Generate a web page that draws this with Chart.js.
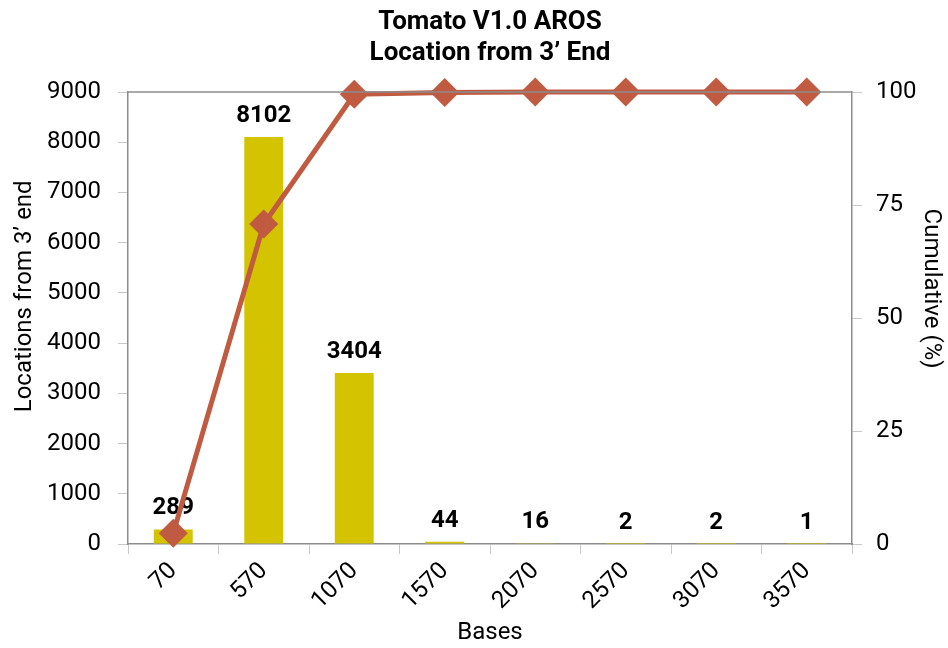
<!DOCTYPE html>
<html>
<head>
<meta charset="utf-8">
<script src="https://cdn.jsdelivr.net/npm/chart.js@4.4.1/dist/chart.umd.min.js"></script>
<style>
  html, body { margin: 0; padding: 0; background: #ffffff; }
  #wrap { width: 948px; height: 648px; }
</style>
</head>
<body>
<div id="wrap"><canvas id="chart" width="948" height="648"></canvas></div>
<script>
// Distance-from-3'-end bins (bases)
const bases = ['70', '570', '1070', '1570', '2070', '2570', '3070', '3570'];
// Number of locations in each bin
const locationCounts = [289, 8102, 3404, 44, 16, 2, 2, 1];
// Cumulative share of locations (%)
const cumulativePct = [2.4, 70.8, 99.5, 99.9, 100, 100, 100, 100];
// Axis tick settings
const countTicks = { min: 0, max: 9000, step: 1000 };
const pctTicks = { min: 0, max: 100, step: 25 };

const BAR_COLOR = '#d4c300';
const LINE_COLOR = '#c05a40';
const AXIS_COLOR = '#8c8c8c';
const TICK_COLOR = '#c8c8c8';
const FONT = 'Roboto';

// Count labels written above each bar (drawn before the line so the line sits on top)
const barValueLabels = {
  id: 'barValueLabels',
  beforeDatasetsDraw(chart) {
    const meta = chart.getDatasetMeta(1);
    const ctx = chart.ctx;
    ctx.save();
    ctx.font = 'bold 24px ' + FONT;
    ctx.fillStyle = '#000000';
    ctx.textAlign = 'center';
    ctx.textBaseline = 'alphabetic';
    meta.data.forEach((bar, i) => {
      ctx.fillText(String(locationCounts[i]), bar.x, bar.y - 15);
    });
    ctx.restore();
  }
};

// Thin frame line along the top of the plot area, plus the two vertical axis titles
const frameAndAxisTitles = {
  id: 'frameAndAxisTitles',
  afterDraw(chart) {
    const { ctx, chartArea } = chart;
    const h = chartArea.bottom - chartArea.top;
    ctx.save();
    ctx.strokeStyle = AXIS_COLOR;
    ctx.lineWidth = 1.5;
    ctx.beginPath();
    ctx.moveTo(chartArea.left, chartArea.top);
    ctx.lineTo(chartArea.right, chartArea.top);
    ctx.stroke();

    ctx.fillStyle = '#000000';
    ctx.font = '24px ' + FONT;
    ctx.textAlign = 'center';
    ctx.textBaseline = 'middle';

    ctx.save();
    ctx.translate(25, chartArea.top + h * 0.452);
    ctx.rotate(-Math.PI / 2);
    ctx.fillText('Locations from 3\u2019 end', 0, 0);
    ctx.restore();

    ctx.save();
    ctx.translate(931, chartArea.top + h * 0.435);
    ctx.rotate(Math.PI / 2);
    ctx.fillText('Cumulative (%)', 0, 0);
    ctx.restore();

    ctx.restore();
  }
};

const tickFont = { family: FONT, size: 24 };
const titleFont = { family: FONT, size: 24, lineHeight: 1.1 };
const plainNumber = (v) => String(v);

new Chart(document.getElementById('chart'), {
  type: 'bar',
  data: {
    labels: bases,
    datasets: [
      {
        type: 'line',
        label: 'Cumulative (%)',
        data: cumulativePct,
        yAxisID: 'y2',
        borderColor: LINE_COLOR,
        backgroundColor: LINE_COLOR,
        borderWidth: 5,
        pointStyle: 'rectRot',
        pointRadius: 14.5,
        pointHoverRadius: 14.5,
        pointBorderWidth: 0,
        tension: 0,
        clip: false,
        order: 0
      },
      {
        type: 'bar',
        label: "Locations from 3' end",
        data: locationCounts,
        yAxisID: 'y',
        backgroundColor: BAR_COLOR,
        barPercentage: 0.43,
        categoryPercentage: 1,
        order: 1
      }
    ]
  },
  options: {
    responsive: false,
    animation: false,
    devicePixelRatio: 1,
    layout: { padding: 0 },
    plugins: {
      legend: { display: false },
      tooltip: { enabled: false },
      title: {
        display: true,
        text: ['Tomato V1.0 AROS', 'Location from 3\u2019 End'],
        color: '#000000',
        font: { family: FONT, size: 26, weight: 'bold', lineHeight: 1.2 },
        padding: { top: 7, bottom: 22.6 },
        fullSize: false
      }
    },
    scales: {
      x: {
        grid: { display: true, drawOnChartArea: false, drawTicks: true, tickLength: 10, color: TICK_COLOR, offset: true },
        border: { display: true, color: AXIS_COLOR, width: 1.5 },
        ticks: { color: '#000000', font: tickFont, minRotation: 45, maxRotation: 45, padding: 3, autoSkip: false },
        title: { display: true, text: 'Bases', color: '#000000', font: titleFont, padding: { top: 0, bottom: 2 } },
        afterFit(scale) { scale.height = 104; }
      },
      y: {
        position: 'left',
        min: countTicks.min,
        max: countTicks.max,
        grid: { display: true, drawOnChartArea: false, drawTicks: true, tickLength: 10, color: TICK_COLOR },
        border: { display: true, color: AXIS_COLOR, width: 1.5 },
        ticks: { stepSize: countTicks.step, color: '#000000', font: tickFont, padding: 17, callback: plainNumber },
        afterFit(scale) { scale.width = 128; }
      },
      y2: {
        position: 'right',
        min: pctTicks.min,
        max: pctTicks.max,
        grid: { display: true, drawOnChartArea: false, drawTicks: true, tickLength: 10, color: TICK_COLOR },
        border: { display: true, color: AXIS_COLOR, width: 1.5 },
        ticks: { stepSize: pctTicks.step, color: '#000000', font: tickFont, padding: 14, callback: plainNumber },
        afterFit(scale) { scale.width = 96; }
      }
    }
  },
  plugins: [barValueLabels, frameAndAxisTitles]
});
</script>
</body>
</html>
